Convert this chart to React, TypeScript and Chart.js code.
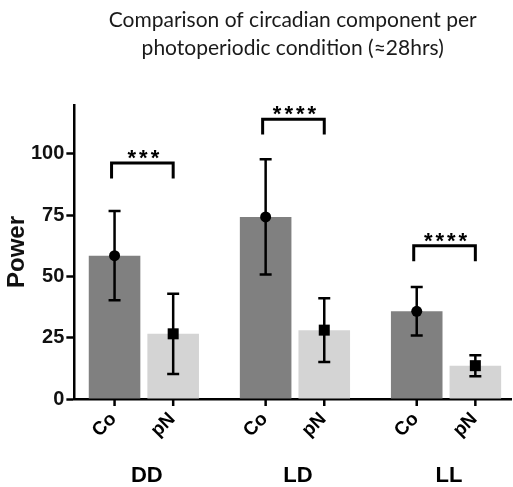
import { useEffect, useRef } from "react";
import { Chart, registerables } from "chart.js";

Chart.register(...registerables);

const groups = ["DD", "LD", "LL"];
const conditions = ["Co", "pN"];
const coMean = [58.5, 74.3, 35.8];
const coSD = [18.2, 23.5, 9.9];
const pnMean = [26.6, 28.1, 13.6];
const pnSD = [16.4, 13.0, 4.3];
const significance = ["***", "****", "****"];
const bracketTop = [96.3, 114.2, 62.5];
const bracketDrop = 6.3;
const yTicks = [0, 25, 50, 75, 100];
const groupIndex = [0, 1, 2];
const titleLines = [
  "Comparison of circadian component per",
  "photoperiodic condition (\u224828hrs)",
];

const overlay = {
  id: "overlay",
  afterDatasetsDraw(chart: any) {
    const ctx = chart.ctx;
    const ys = chart.scales.y;
    const series = [
      { meta: chart.getDatasetMeta(0), mean: coMean, sd: coSD, marker: "circle" },
      { meta: chart.getDatasetMeta(1), mean: pnMean, sd: pnSD, marker: "square" },
    ];
    ctx.save();
    ctx.strokeStyle = "#000";
    ctx.fillStyle = "#000";
    ctx.lineWidth = 2.5;
    series.forEach((s) => {
      s.meta.data.forEach((el: any, i: number) => {
        const x = el.x;
        const top = ys.getPixelForValue(s.mean[i] + s.sd[i]);
        const bot = ys.getPixelForValue(s.mean[i] - s.sd[i]);
        const c = ys.getPixelForValue(s.mean[i]);
        ctx.beginPath();
        ctx.moveTo(x, top);
        ctx.lineTo(x, bot);
        ctx.moveTo(x - 6, top);
        ctx.lineTo(x + 6, top);
        ctx.moveTo(x - 6, bot);
        ctx.lineTo(x + 6, bot);
        ctx.stroke();
        if (s.marker === "circle") {
          ctx.beginPath();
          ctx.arc(x, c, 5.5, 0, Math.PI * 2);
          ctx.fill();
        } else {
          ctx.fillRect(x - 5.5, c - 5.5, 11, 11);
        }
      });
    });
    ctx.restore();
  },
  afterDraw(chart: any) {
    const ctx = chart.ctx;
    const ys = chart.scales.y;
    const axisY = chart.chartArea.bottom;
    const m0 = chart.getDatasetMeta(0);
    const m1 = chart.getDatasetMeta(1);
    ctx.save();
    ctx.strokeStyle = "#000";
    ctx.fillStyle = "#000";
    groups.forEach((g, i) => {
      const xs = [m0.data[i].x, m1.data[i].x];
      xs.forEach((x, k) => {
        ctx.lineWidth = 2.5;
        ctx.beginPath();
        ctx.moveTo(x, axisY);
        ctx.lineTo(x, axisY + 7);
        ctx.stroke();
        ctx.save();
        ctx.translate(x - 1, axisY + 17);
        ctx.rotate(-Math.PI / 4);
        ctx.font = "bold 19px 'Liberation Sans'";
        ctx.textAlign = "right";
        ctx.textBaseline = "middle";
        ctx.fillText(conditions[k], 0, 0);
        ctx.restore();
      });
      ctx.font = "bold 22px 'Liberation Sans'";
      ctx.textAlign = "center";
      ctx.textBaseline = "middle";
      ctx.fillText(g, (xs[0] + xs[1]) / 2 + 3, axisY + 77);
      const bt = ys.getPixelForValue(bracketTop[i]);
      const bb = ys.getPixelForValue(bracketTop[i] - bracketDrop);
      ctx.lineWidth = 3;
      ctx.beginPath();
      ctx.moveTo(xs[0] - 3, bb);
      ctx.lineTo(xs[0] - 3, bt);
      ctx.lineTo(xs[1], bt);
      ctx.lineTo(xs[1], bb);
      ctx.stroke();
      ctx.font = "bold 22px 'Liberation Sans'";
      (ctx as any).letterSpacing = "3px";
      ctx.textBaseline = "alphabetic";
      ctx.fillText(significance[i], (xs[0] + xs[1]) / 2 + 1, bt + 2);
      (ctx as any).letterSpacing = "0px";
    });
    ctx.restore();
  },
};

export default function App() {
  const ref = useRef<HTMLCanvasElement | null>(null);
  useEffect(() => {
    if (!ref.current) return;
    Chart.defaults.font.family = "'Liberation Sans', Arial, sans-serif";
    const chart = new Chart(ref.current, {
      type: "bar",
      data: {
        datasets: [
          {
            label: conditions[0],
            data: coMean.map((v, i) => ({ x: groupIndex[i], y: v })),
            backgroundColor: "#808080",
            categoryPercentage: 0.776,
            barPercentage: 0.88,
          },
          {
            label: conditions[1],
            data: pnMean.map((v, i) => ({ x: groupIndex[i], y: v })),
            backgroundColor: "#d4d4d4",
            categoryPercentage: 0.776,
            barPercentage: 0.88,
          },
        ],
      },
      options: {
        animation: false,
        responsive: true,
        maintainAspectRatio: false,
        devicePixelRatio: 1,
        layout: { padding: { left: 0, right: 2, top: 0, bottom: 80 } },
        plugins: {
          legend: { display: false },
          tooltip: { enabled: false },
          title: {
            display: true,
            fullSize: false,
            text: titleLines,
            color: "#1a1a1a",
            font: { family: "Lato", size: 21, weight: "normal", lineHeight: 1.32 },
            padding: { top: 6.5, bottom: 43 },
          },
        },
        scales: {
          x: {
            type: "linear",
            min: -0.46,
            max: 2.43,
            offset: false,
            z: 1,
            afterBuildTicks: (scale: any) => {
              scale.ticks = groupIndex.map((v) => ({ value: v }));
            },
            grid: { display: false },
            ticks: { display: false },
            border: { display: true, color: "#000", width: 2.5 },
          },
          y: {
            min: 0,
            max: 120,
            afterBuildTicks: (scale: any) => {
              scale.ticks = yTicks.map((v) => ({ value: v }));
            },
            grid: {
              display: true,
              drawOnChartArea: false,
              drawTicks: true,
              tickLength: 8,
              tickWidth: 2.5,
              tickColor: "#000",
            },
            border: { display: true, color: "#000", width: 2.5 },
            ticks: {
              color: "#111",
              padding: 2,
              font: { size: 20, weight: "bold" },
            },
            title: {
              display: true,
              text: "Power",
              color: "#111",
              font: { size: 24, weight: "bold", lineHeight: 1.0 },
              padding: { top: 5, bottom: 0 },
            },
          },
        },
      },
      plugins: [overlay],
    });
    return () => chart.destroy();
  }, []);
  return (
    <div style={{ position: "fixed", left: 0, top: 0, width: 513, height: 487, background: "#fff" }}>
      <canvas ref={ref} />
    </div>
  );
}
